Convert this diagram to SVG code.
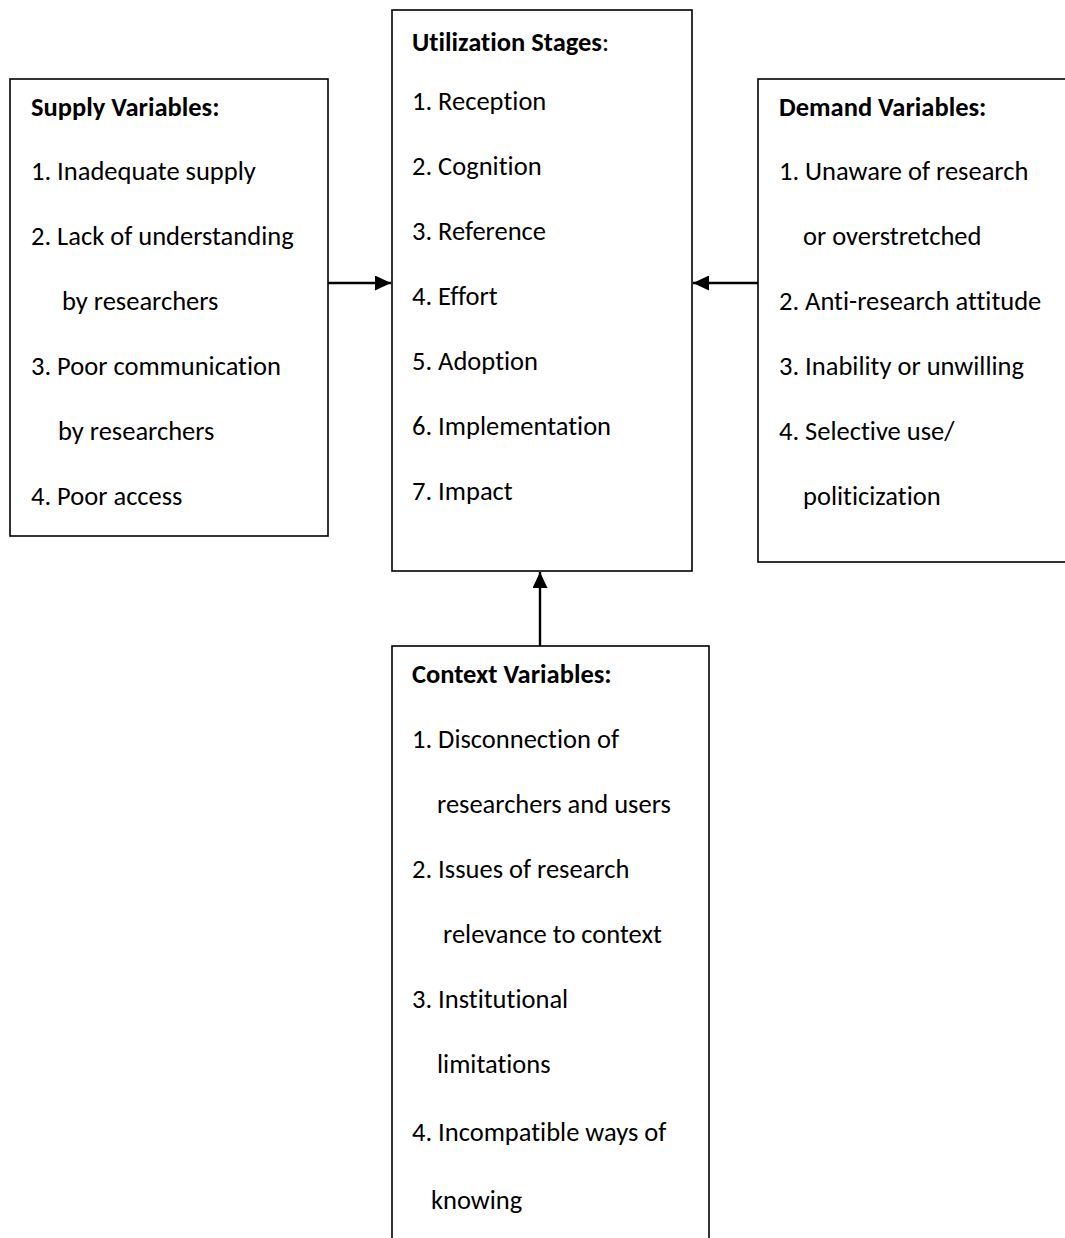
<svg xmlns="http://www.w3.org/2000/svg" width="1065" height="1238" viewBox="0 0 1065 1238">
  <style>
    .box { fill: #ffffff; stroke: #000000; stroke-width: 1.6; }
    .t { font-family: Carlito, Lato, "Liberation Sans", sans-serif; font-size: 26.5px; fill: #000000; font-variant-ligatures: none; }
    .b { font-weight: bold; }
    .link { stroke: #000000; stroke-width: 2.4; fill: none; }
  </style>
  <defs>
    <marker id="head" viewBox="0 0 16 15" refX="16" refY="7.5" markerWidth="16" markerHeight="15" markerUnits="userSpaceOnUse" orient="auto">
      <path d="M0,0 L16,7.5 L0,15 Z" fill="#000000"/>
    </marker>
  </defs>

  <rect width="1065" height="1238" fill="#ffffff"/>

  <g id="supply">
    <rect class="box" x="10" y="79" width="318" height="457"/>
    <text class="t b" x="31" y="116">Supply Variables:</text>
    <text class="t" x="31" y="180">1. Inadequate supply</text>
    <text class="t" x="31" y="245">2. Lack of understanding</text>
    <text class="t" x="62" y="310">by researchers</text>
    <text class="t" x="31" y="375">3. Poor communication</text>
    <text class="t" x="58" y="440">by researchers</text>
    <text class="t" x="31" y="505">4. Poor access</text>
  </g>

  <g id="utilization">
    <rect class="box" x="392" y="10" width="300" height="561"/>
    <text class="t" x="412" y="51"><tspan class="b">Utilization Stages</tspan>:</text>
    <text class="t" x="412" y="110">1. Reception</text>
    <text class="t" x="412" y="175">2. Cognition</text>
    <text class="t" x="412" y="240">3. Reference</text>
    <text class="t" x="412" y="305">4. Effort</text>
    <text class="t" x="412" y="370">5. Adoption</text>
    <text class="t" x="412" y="435">6. Implementation</text>
    <text class="t" x="412" y="500">7. Impact</text>
  </g>

  <g id="demand">
    <rect class="box" x="758" y="79" width="320" height="483"/>
    <text class="t b" x="779" y="116">Demand Variables:</text>
    <text class="t" x="779" y="180">1. Unaware of research</text>
    <text class="t" x="803" y="245">or overstretched</text>
    <text class="t" x="779" y="310">2. Anti-research attitude</text>
    <text class="t" x="779" y="375">3. Inability or unwilling</text>
    <text class="t" x="779" y="440">4. Selective use/</text>
    <text class="t" x="803" y="505">politicization</text>
  </g>

  <g id="context">
    <rect class="box" x="392" y="646" width="317" height="610"/>
    <text class="t b" x="412" y="683">Context Variables:</text>
    <text class="t" x="412" y="748">1. Disconnection of</text>
    <text class="t" x="437" y="813">researchers and users</text>
    <text class="t" x="412" y="878">2. Issues of research</text>
    <text class="t" x="443" y="943">relevance to context</text>
    <text class="t" x="412" y="1008">3. Institutional</text>
    <text class="t" x="437" y="1073">limitations</text>
    <text class="t" x="412" y="1141">4. Incompatible ways of</text>
    <text class="t" x="431" y="1209">knowing</text>
  </g>

  <g id="connectors">
    <line class="link" x1="328" y1="283" x2="391" y2="283" marker-end="url(#head)"/>
    <line class="link" x1="758" y1="283" x2="693" y2="283" marker-end="url(#head)"/>
    <line class="link" x1="540" y1="646" x2="540" y2="572" marker-end="url(#head)"/>
  </g>
</svg>
